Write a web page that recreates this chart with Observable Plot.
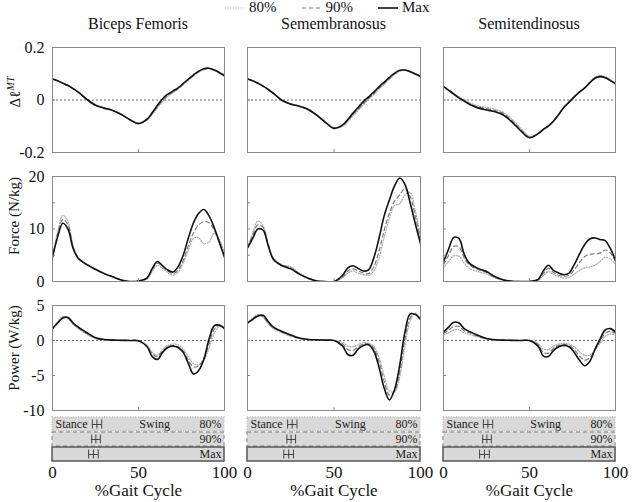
<!DOCTYPE html>
<html><head><meta charset="utf-8">
<script src="https://cdn.jsdelivr.net/npm/d3@7"></script>
<script src="https://cdn.jsdelivr.net/npm/@observablehq/plot@0.6"></script>
<style>
body{margin:0;background:#fff;}
#chart{position:relative;width:632px;height:502px;font-family:"Liberation Serif","Times New Roman",serif;color:#111;overflow:hidden;}
#chart svg{position:absolute;overflow:visible;}
.lbl{position:absolute;white-space:nowrap;line-height:1;}
</style></head><body><div id="chart"></div>
<script>
// ---------- data ----------
const pct = [0,3,6,9,12,15,20,25,30,35,40,45,50,55,58,61,64,67,70,73,76,79,82,85,88,91,94,97,100];
const muscles = ["Biceps Femoris","Semembranosus","Semitendinosus"];
const levels = ["80%","90%","Max"];
const gaitCycle = [0,100];
const xTicks = [0,50,100];

// Biceps Femoris
const bfLen80  = [.081,.074,.065,.056,.044,.031,.004,-.018,-.029,-.039,-.054,-.074,-.088,-.076,-.055,-.030,-.006,.014,.028,.041,.058,.075,.091,.106,.116,.120,.116,.107,.095];
const bfLen90  = [.080,.073,.064,.055,.043,.030,.003,-.019,-.030,-.040,-.055,-.075,-.089,-.075,-.052,-.026,-.002,.017,.030,.043,.060,.077,.093,.108,.117,.120,.115,.106,.094];
const bfLenMax = [.080,.073,.064,.055,.043,.030,.002,-.020,-.031,-.040,-.055,-.075,-.090,-.073,-.048,-.020,.005,.022,.034,.046,.063,.080,.096,.110,.119,.121,.114,.104,.092];
const bfFor80  = [4.7,9.5,12.6,11.4,6.8,4.6,3.3,2.4,1.6,0.9,0.3,0.0,0.1,0.5,1.9,3.1,2.5,1.7,1.2,1.8,3.5,6.0,8.2,8.3,7.2,7.5,9.2,8.0,5.5];
const bfFor90  = [4.6,9.0,11.8,10.8,6.5,4.5,3.2,2.3,1.5,0.9,0.3,0.0,0.1,0.6,2.2,3.5,2.8,2.0,1.5,2.2,4.0,6.8,9.3,10.8,11.4,11.2,9.8,7.3,4.8];
const bfForMax = [4.6,8.5,11.1,10.0,6.3,4.4,3.2,2.3,1.5,0.9,0.3,0.0,0.1,0.7,2.5,3.8,3.0,2.2,1.8,2.8,5.0,8.3,11.2,13.0,13.7,12.5,10.3,7.5,4.6];
const bfPow80  = [1.7,2.7,3.4,3.1,2.3,1.7,0.9,0.3,0.1,0.05,0.02,0,-0.05,-0.7,-1.7,-2.1,-1.3,-0.7,-0.5,-0.6,-1.2,-2.3,-3.3,-3.5,-2.8,-1.1,1.0,2.0,1.8];
const bfPow90  = [1.7,2.6,3.3,3.2,2.4,1.8,1.0,0.35,0.1,0.05,0.02,0,-0.05,-0.8,-1.9,-2.3,-1.5,-0.9,-0.7,-0.9,-1.5,-2.8,-3.8,-3.6,-2.5,-0.5,1.6,2.2,1.8];
const bfPowMax = [1.7,2.5,3.2,3.3,2.5,1.9,1.1,0.4,0.15,0.05,0.02,0,-0.05,-0.9,-2.3,-2.7,-1.7,-1.0,-0.8,-1.0,-1.7,-3.3,-4.8,-4.3,-2.7,0.2,2.1,2.2,1.7];

// Semembranosus
const smLen80  = [.081,.074,.065,.054,.041,.026,.000,-.014,-.022,-.034,-.056,-.083,-.106,-.100,-.082,-.060,-.040,-.018,.002,.021,.041,.060,.079,.097,.110,.114,.110,.101,.092];
const smLen90  = [.080,.073,.064,.053,.040,.025,-.001,-.015,-.023,-.035,-.057,-.084,-.107,-.098,-.079,-.056,-.035,-.013,.006,.025,.045,.064,.082,.099,.111,.114,.109,.100,.091];
const smLenMax = [.080,.073,.064,.053,.040,.025,-.002,-.016,-.024,-.036,-.058,-.085,-.108,-.095,-.074,-.050,-.028,-.006,.012,.030,.050,.068,.086,.102,.113,.114,.108,.099,.090];
const smFor80  = [6.6,9.2,11.5,10.6,7.2,4.5,3.2,2.8,1.6,0.7,0.1,0,0,0.7,1.6,2.0,1.6,1.3,1.2,2.0,4.5,8.5,12.0,14.5,14.8,16.5,17.0,13.5,8.5];
const smFor90  = [6.5,8.8,10.8,10.3,7.0,4.3,3.1,2.6,1.5,0.6,0.1,0,0,0.9,2.0,2.4,2.0,1.6,1.5,2.8,5.8,9.8,13.0,15.3,16.5,17.7,16.2,12.5,8.0];
const smForMax = [6.4,8.2,10.0,9.8,6.8,4.2,3.0,2.4,1.4,0.6,0.1,0,0,1.2,2.6,3.0,2.5,2.0,2.2,4.5,8.2,12.5,15.5,18.2,19.7,18.5,15.0,11.0,7.2];
const smPow80  = [2.5,3.2,3.7,3.3,2.4,1.7,1.1,0.6,0.3,0.15,0.1,0.05,0,-0.3,-0.8,-0.9,-0.6,-0.3,-0.4,-0.8,-2.4,-5.0,-7.2,-7.3,-5.2,-0.8,2.8,3.9,3.2];
const smPow90  = [2.5,3.1,3.6,3.4,2.5,1.8,1.2,0.7,0.3,0.15,0.1,0.05,0,-0.5,-1.3,-1.4,-0.9,-0.5,-0.5,-1.1,-3.0,-5.8,-7.8,-7.3,-4.5,0.2,3.2,3.8,3.1];
const smPowMax = [2.5,3.0,3.5,3.6,2.7,1.9,1.3,0.8,0.35,0.15,0.1,0.05,0,-0.8,-2.0,-2.1,-1.2,-0.7,-0.6,-1.5,-3.8,-6.8,-8.5,-7.0,-3.5,1.2,3.8,3.7,3.0];

// Semitendinosus
const stLen80  = [.052,.039,.025,.012,.001,-.010,-.022,-.028,-.035,-.048,-.074,-.108,-.138,-.130,-.115,-.100,-.080,-.055,-.029,-.009,.012,.031,.047,.068,.086,.093,.089,.077,.063];
const stLen90  = [.052,.038,.024,.010,-.002,-.013,-.026,-.033,-.040,-.053,-.080,-.113,-.141,-.129,-.113,-.099,-.080,-.055,-.028,-.008,.012,.030,.046,.066,.084,.091,.087,.075,.062];
const stLenMax = [.051,.037,.022,.008,-.004,-.016,-.030,-.038,-.045,-.058,-.085,-.118,-.144,-.128,-.112,-.099,-.080,-.055,-.028,-.008,.012,.030,.045,.065,.083,.089,.085,.074,.061];
const stFor80  = [2.6,3.8,4.9,4.8,3.5,2.5,1.9,1.4,0.7,0.2,0.05,0,0,0.2,1.1,1.9,1.3,0.9,0.7,0.8,1.4,2.1,2.6,2.8,3.1,3.8,4.6,4.3,3.3];
const stFor90  = [3.2,5.0,6.7,6.6,4.5,3.2,2.3,1.7,0.8,0.3,0.05,0,0,0.3,1.5,2.5,1.7,1.2,1.0,1.2,2.2,3.6,4.7,5.2,5.3,5.4,6.0,5.4,3.8];
const stForMax = [3.7,6.2,8.4,8.2,5.2,3.5,2.5,1.9,0.9,0.3,0.05,0,0,0.4,2.0,3.1,2.1,1.6,1.3,1.6,3.2,5.2,7.0,8.1,8.3,8.0,7.8,6.3,4.0];
const stPow80  = [0.8,1.1,1.5,1.5,1.1,0.85,0.5,0.2,0.08,0.04,0.02,0,0,-0.4,-1.2,-1.3,-0.8,-0.5,-0.4,-0.5,-0.9,-1.6,-2.1,-2.1,-1.4,-0.4,0.6,0.9,0.8];
const stPow90  = [1.0,1.5,2.0,2.0,1.4,1.1,0.6,0.25,0.1,0.05,0.02,0,0,-0.6,-1.7,-1.8,-1.1,-0.7,-0.6,-0.7,-1.3,-2.2,-2.8,-2.5,-1.3,-0.1,1.0,1.3,1.0];
const stPowMax = [1.2,1.9,2.6,2.5,1.7,1.3,0.75,0.3,0.1,0.05,0.02,0,0,-0.8,-2.2,-2.3,-1.4,-0.9,-0.7,-0.9,-1.7,-2.8,-3.6,-3.0,-1.3,0.2,1.5,1.7,1.2];

// toe-off (stance/swing transition), % gait cycle: mean and ± spread, per level
const toeOffMean = [25.8,25.2,23.8];
const toeOffLo   = [23.2,22.8,21.0];
const toeOffHi   = [28.6,27.8,26.6];

// row definitions (y domains and tick labels)
const lenDomain = [-0.2,0.2], lenTicks = [-0.2,0,0.2];
const forDomain = [0,20],     forTicks = [0,10,20];
const powDomain = [-10,5],    powTicks = [-10,-5,0,5];

// ---------- layout ----------
const chart = document.getElementById("chart");
const FONT = "'Liberation Serif','Times New Roman',serif";
const colLeft = [52,247,443], colWidth = [172,173,172];
const rowTop = [47,176,305], rowH = 105;
const ML = 40, MR = 8, MT = 4, MB = 4;

const series = [
  [[bfLen80,bfLen90,bfLenMax],[smLen80,smLen90,smLenMax],[stLen80,stLen90,stLenMax]],
  [[bfFor80,bfFor90,bfForMax],[smFor80,smFor90,smForMax],[stFor80,stFor90,stForMax]],
  [[bfPow80,bfPow90,bfPowMax],[smPow80,smPow90,smPowMax],[stPow80,stPow90,stPowMax]]
];
const rowDefs = [
  {domain: lenDomain, ticks: lenTicks, inner: [0], zero: true},
  {domain: forDomain, ticks: forTicks, inner: [5,10,15], zero: false},
  {domain: powDomain, ticks: powTicks, inner: [-5,0], zero: true}
];
const lineStyle = {
  "80%": {stroke:"#a9a9a9", strokeWidth:1.2, strokeDasharray:"1,1.6"},
  "90%": {stroke:"#7c7c7c", strokeWidth:1.2, strokeDasharray:"4,3"},
  "Max": {stroke:"#111", strokeWidth:1.6}
};

function place(node, left, top){ node.style.left = left+"px"; node.style.top = top+"px"; chart.appendChild(node); }
function label(html, left, top, size, extra){
  const d = document.createElement("div");
  d.className = "lbl"; d.innerHTML = html;
  d.style.fontSize = size+"px";
  d.style.left = left+"px"; d.style.top = top+"px";
  if (extra) Object.assign(d.style, extra);
  chart.appendChild(d); return d;
}

rowDefs.forEach((rd, r) => {
  for (let c = 0; c < 3; c++) {
    const arrs = series[r][c];
    const rows = levels.flatMap((lv, i) => pct.map((p, j) => ({pct: p, level: lv, v: arrs[i][j]})));
    const marks = [];
    if (rd.zero) marks.push(Plot.ruleY([0], {stroke:"#666", strokeWidth:1, strokeDasharray:"2,2"}));
    levels.forEach(lv => marks.push(Plot.lineY(rows.filter(d => d.level === lv),
      {x:"pct", y:"v", curve:"catmull-rom", clip:true, ...lineStyle[lv]})));
    marks.push(Plot.frame({stroke:"#8a8a8a", strokeWidth:1}));
    if (c === 0) marks.push(Plot.axisY({ticks: rd.ticks, tickSize:0, tickPadding:8, tickFormat: d => String(d), label:null, fontSize:16}));
    marks.push(Plot.axisY({ticks: rd.inner, tickSize:3, dx:3, tickFormat: () => "", label:null, stroke:"#888"}));
    marks.push(Plot.axisX({ticks: [50], tickSize:3, dy:-3, tickFormat: () => "", label:null, stroke:"#888"}));
    const svg = Plot.plot({
      width: ML + colWidth[c] + MR, height: MT + rowH + MB,
      marginLeft: ML, marginRight: MR, marginTop: MT, marginBottom: MB,
      x: {domain: gaitCycle}, y: {domain: rd.domain},
      style: {fontFamily: FONT, fontSize: "16px", background: "transparent", color:"#111"},
      marks
    });
    place(svg, colLeft[c] - ML, rowTop[r] - MT);
  }
});

// gait phase bars
const barData = levels.map((lv, i) => ({level: lv, start: gaitCycle[0], end: gaitCycle[1],
  mean: toeOffMean[i], lo: toeOffLo[i], hi: toeOffHi[i], swingAt: (toeOffMean[i] + gaitCycle[1]) / 2}));
const barStyle = {
  "80%": {stroke:"#b8b8b8", strokeWidth:1.3, strokeDasharray:"1,1.6"},
  "90%": {stroke:"#9a9a9a", strokeWidth:1.3, strokeDasharray:"4,3"},
  "Max": {stroke:"#555", strokeWidth:1.5}
};
for (let c = 0; c < 3; c++) {
  const marks = [];
  levels.forEach(lv => marks.push(Plot.barX(barData.filter(d => d.level === lv),
    {x1:"start", x2:"end", y:"level", fill:"#d9d9d9", ...barStyle[lv]})));
  marks.push(Plot.ruleY(barData, {y:"level", x1:"lo", x2:"hi", stroke:"#444", strokeWidth:1}));
  const tk = barData.flatMap(d => [{level:d.level, v:d.lo}, {level:d.level, v:d.mean}, {level:d.level, v:d.hi}]);
  marks.push(Plot.tickX(tk, {x:"v", y:"level", stroke:"#444", strokeWidth:1, inset:2.5}));
  marks.push(Plot.text(barData.filter(d => d.level === "80%"), {y:"level", frameAnchor:"left", textAnchor:"start", dx:3, text: () => "Stance", fontSize:12, fill:"#222"}));
  marks.push(Plot.text(barData.filter(d => d.level === "80%"), {y:"level", x:"swingAt", dx:-6, text: () => "Swing", fontSize:12, fill:"#222"}));
  marks.push(Plot.text(barData, {y:"level", frameAnchor:"right", textAnchor:"end", dx:-3, text:"level", fontSize:12, fill:"#222"}));
  marks.push(Plot.axisX({ticks: xTicks, tickSize:0, tickPadding:4, tickFormat: d => String(d), fontSize:17,
    label:"%Gait Cycle", labelAnchor:"center", labelOffset:34, labelArrow:"none"}));
  const svg = Plot.plot({
    width: ML + colWidth[c] + MR, height: 2 + 45 + 41,
    marginLeft: ML, marginRight: MR, marginTop: 2, marginBottom: 41,
    x: {domain: gaitCycle}, y: {domain: levels, paddingInner: 0.1, paddingOuter: 0, axis: null},
    style: {fontFamily: FONT, fontSize: "17px", background: "transparent", color:"#111"},
    marks
  });
  place(svg, colLeft[c] - ML, 414);
}

// column titles
muscles.forEach((m, c) => label(m, colLeft[c], 16, 16, {width: colWidth[c]+"px", textAlign:"center"}));

// y labels
const yLabels = [["&Delta;&#8467;<sup style='font-size:10px;font-style:italic'>MT</sup>", 92],
                 ["Force (N/kg)", 216], ["Power (W/kg)", 348]];
yLabels.forEach(([t, cy]) => label(t, 14, cy, 15, {transform:"translate(-50%,-50%) rotate(-90deg)"}));

// legend
const leg = document.createElement("div");
leg.className = "lbl";
leg.style.cssText += "left:224px;top:0px;font-size:15px;display:flex;align-items:center;";
const legItems = levels.map(lv => {
  const s = lineStyle[lv];
  return `<svg width="22" height="10" style="position:static;margin-right:3px"><line x1="1" y1="5" x2="21" y2="5" stroke="${s.stroke}" stroke-width="${s.strokeWidth}" ${s.strokeDasharray ? `stroke-dasharray="${s.strokeDasharray}"` : ""}/></svg><span style="margin-right:24px">${lv}</span>`;
});
leg.innerHTML = legItems.join("");
chart.appendChild(leg);
</script></body></html>
